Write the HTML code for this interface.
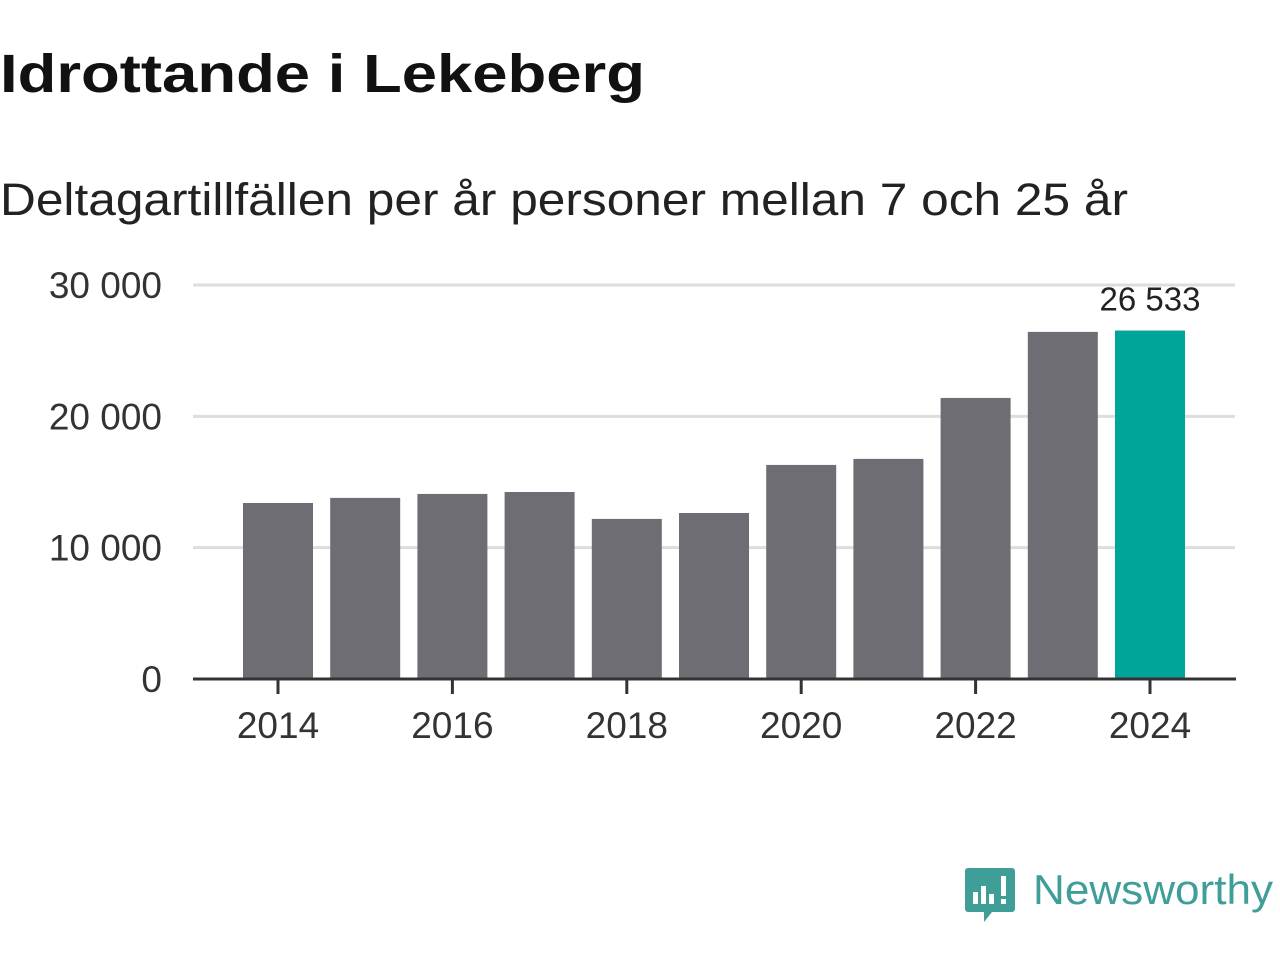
<!DOCTYPE html>
<html><head><meta charset="utf-8"><style>
body{margin:0;width:1280px;height:960px;background:#fff;overflow:hidden;font-family:"Liberation Sans","DejaVu Sans",sans-serif;}
svg{position:absolute;left:0;top:0}
</style></head><body>
<svg width="1280" height="960" id="c">
<text x="0" y="92" font-size="54" font-weight="bold" fill="#111" textLength="645" lengthAdjust="spacingAndGlyphs">Idrottande i Lekeberg</text>
<text x="0" y="215" font-size="45" fill="#222" textLength="1128" lengthAdjust="spacingAndGlyphs">Deltagartillfällen per år personer mellan 7 och 25 år</text>
<g id="grid"></g><g id="bars"></g><g id="axis"></g>
<g>
<path d="M968 868 h44 a3 3 0 0 1 3 3 v38 a3 3 0 0 1 -3 3 h-20 l-8 10 v-10 h-16 a3 3 0 0 1 -3 -3 v-38 a3 3 0 0 1 3 -3z" fill="#3f9e98"/>
<rect x="973" y="892" width="5" height="12" fill="#fff"/><rect x="981" y="886" width="5" height="18" fill="#fff"/><rect x="989" y="894" width="5" height="10" fill="#fff"/><rect x="1001" y="876" width="5" height="20" fill="#fff"/><rect x="1001" y="899" width="5" height="5" fill="#fff"/>
<text x="1033" y="904" font-size="42" fill="#3f9e98" textLength="240" lengthAdjust="spacingAndGlyphs">Newsworthy</text>
</g>
</svg>
<script>
const years=[2014,2015,2016,2017,2018,2019,2020,2021,2022,2023,2024];
const values=[13400,13790,14090,14240,12190,12640,16300,16760,21400,26430,26533];
const yTicks=[0,10000,20000,30000];
const yTickLabels=["0","10 000","20 000","30 000"];
const xTickYears=[2014,2016,2018,2020,2022,2024];
const NS="http://www.w3.org/2000/svg";
const y=v=>679-v*(394/30000);
const x=yr=>278+(yr-2014)*87.2;
function mk(t,a,p){const e=document.createElementNS(NS,t);for(const k in a)e.setAttribute(k,a[k]);document.getElementById(p).appendChild(e);return e;}
yTicks.forEach((t,i)=>{
 if(t>0){const l=mk('line',{x1:193,x2:1235,y1:y(t),y2:y(t),stroke:'#ddd','stroke-width':3},'grid');
 
 }
 const tx=mk('text',{x:162,y:y(t)+13,'font-size':37,fill:'#333','text-anchor':'end'},'axis');tx.textContent=yTickLabels[i];
 
 
});
years.forEach((yr,i)=>{
 const last=i===years.length-1;
 const r=mk('rect',{x:x(yr)-35,y:y(values[i]),width:70,height:679-y(values[i]),fill:last?'#00a59a':'#6e6d73'},'bars');
 
 
 if(last){const t=mk('text',{x:x(yr),y:y(values[i])-20,'font-size':33,fill:'#222','text-anchor':'middle'},'bars');
 t.textContent=values[i].toLocaleString('sv-SE').replace(/\s/g,' ');
 
 }
});
const ax=mk('line',{x1:193,x2:1236,y1:679,y2:679,stroke:'#333','stroke-width':3},'axis');


xTickYears.forEach(yr=>{
 const tk=mk('line',{x1:x(yr),x2:x(yr),y1:679,y2:694,stroke:'#333','stroke-width':3},'axis');
 
 
 const t=mk('text',{x:x(yr),y:738,'font-size':37,fill:'#333','text-anchor':'middle'},'axis');t.textContent=yr;
 
 
});
</script>
</body></html>
